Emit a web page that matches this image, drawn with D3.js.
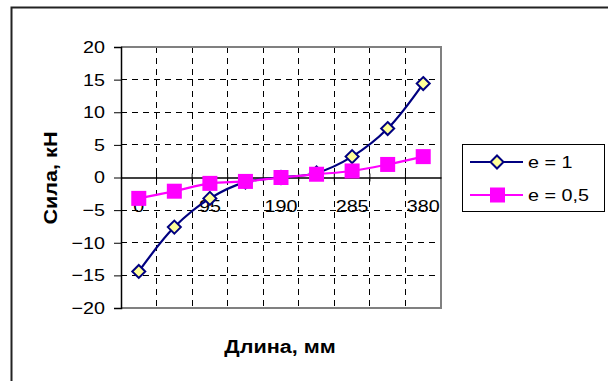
<!DOCTYPE html>
<html><head><meta charset="utf-8">
<script src="https://cdn.jsdelivr.net/npm/d3@7"></script>
<style>body{margin:0;background:#fff}svg{display:block}</style>
</head><body>
<svg id="c" width="609" height="381"></svg>
<script>
const categories = ["0","47,5","95","142,5","190","237,5","285","332,5","380"];
const shownLabels = ["0","95","190","285","380"];
const seriesE1 = [-14.4,-7.6,-3.2,-0.7,0,0.7,3.2,7.5,14.4];
const seriesE05 = [-3.2,-2.1,-0.9,-0.6,0,0.5,1.0,2.0,3.2];
const seriesNames = ["e = 1","e = 0,5"];
const yTicks = [-20,-15,-10,-5,0,5,10,15,20];

const FONT = "Arial, 'Liberation Sans', sans-serif";
const stretch = (sel, k) => sel.each(function(){
  const w = this.getComputedTextLength();
  if (w > 0) { this.setAttribute("textLength", w*k); this.setAttribute("lengthAdjust","spacingAndGlyphs"); }
});

const svg = d3.select("#c");
const L=121, R=441, T=47, B=308;
svg.append("path").attr("d","M11.5,381 V7.5 H608").attr("fill","none").attr("stroke","#222").attr("stroke-width",2);

const x = d3.scaleBand().domain(categories).range([L,R]).padding(0);
const y = d3.scaleLinear().domain([-20,20]).range([B,T]);

svg.append("g").selectAll("line").data(yTicks.filter(d=>d!==0&&d!==20&&d!==-20)).join("line")
  .attr("x1",L).attr("x2",R).attr("y1",d=>y(d)).attr("y2",d=>y(d))
  .attr("stroke","#000").attr("stroke-dasharray","6,5").attr("stroke-width",1).attr("shape-rendering","crispEdges");
svg.append("g").selectAll("line").data(categories.slice(1)).join("line")
  .attr("x1",d=>x(d)).attr("x2",d=>x(d)).attr("y1",T).attr("y2",B)
  .attr("stroke","#000").attr("stroke-dasharray","6,5").attr("stroke-width",1).attr("shape-rendering","crispEdges");

svg.append("path").attr("d",`M${L},${T} H${R} V${B} H${L}`).attr("fill","none").attr("stroke","#808080").attr("stroke-width",2);

const yAxis = d3.axisLeft(y).tickValues(yTicks).tickSize(7).tickPadding(9);
const gy = svg.append("g").attr("transform",`translate(${L},0)`).call(yAxis);
gy.select(".domain").attr("stroke","#000").attr("stroke-width",1.5);
gy.selectAll(".tick line").attr("stroke","#000");
gy.selectAll("text").attr("font-family",FONT).attr("font-size",17).attr("fill","#000");
stretch(gy.selectAll("text"), 1.16);

const xAxis = d3.axisBottom(x).tickValues(categories).tickSize(0).tickFormat(d=>shownLabels.includes(d)?d:"");
const gx = svg.append("g").attr("transform",`translate(0,${y(0)})`).call(xAxis);
gx.select(".domain").attr("stroke","#000").attr("stroke-width",1.5);
gx.selectAll("text").attr("font-family",FONT).attr("font-size",17).attr("fill","#000").attr("dy","1.85em");
stretch(gx.selectAll("text"), 1.16);
svg.append("g").selectAll("line").data(categories.slice(1)).join("line")
  .attr("x1",d=>x(d)).attr("x2",d=>x(d)).attr("y1",y(0)-4).attr("y2",y(0)+4).attr("stroke","#000");

const cx = d => x(d)+x.bandwidth()/2;
const line = d3.line().curve(d3.curveCatmullRom.alpha(0.5));

const p1 = categories.map((c,i)=>[cx(c),y(seriesE1[i])]);
const p2 = categories.map((c,i)=>[cx(c),y(seriesE05[i])]);
svg.append("path").attr("d",line(p1)).attr("fill","none").attr("stroke","#000080").attr("stroke-width",2.2);
const diamond = (s)=>`M0,${-s} L${s},0 L0,${s} L${-s},0 Z`;
svg.append("g").selectAll("path").data(p1).join("path")
  .attr("transform",d=>`translate(${d[0]},${d[1]})`).attr("d",diamond(6.5))
  .attr("fill","#FFFF99").attr("stroke","#000080").attr("stroke-width",2);
svg.append("path").attr("d",line(p2)).attr("fill","none").attr("stroke","#FF00FF").attr("stroke-width",2.2);
svg.append("g").selectAll("rect").data(p2).join("rect")
  .attr("x",d=>d[0]-7.5).attr("y",d=>d[1]-7.5).attr("width",15).attr("height",15).attr("fill","#FF00FF");

const xt = svg.append("text").attr("x",280).attr("y",353).attr("text-anchor","middle")
  .attr("font-family",FONT).attr("font-weight","bold").attr("font-size",18).text("Длина, мм");
stretch(xt, 1.2);
const yt = svg.append("text").attr("transform","translate(57,178) rotate(-90)").attr("text-anchor","middle")
  .attr("font-family",FONT).attr("font-weight","bold").attr("font-size",18).text("Сила, кН");
stretch(yt, 1.2);

const lg = svg.append("g");
lg.append("rect").attr("x",462.5).attr("y",144.5).attr("width",142).attr("height",67).attr("fill","#fff").attr("stroke","#000").attr("stroke-width",1);
const items = [{name:seriesNames[0],col:"#000080",m:"d",yy:162},{name:seriesNames[1],col:"#FF00FF",m:"s",yy:195}];
items.forEach(it=>{
  lg.append("line").attr("x1",470).attr("x2",523).attr("y1",it.yy).attr("y2",it.yy).attr("stroke",it.col).attr("stroke-width",2.2);
  if(it.m==="d") lg.append("path").attr("transform",`translate(497,${it.yy})`).attr("d",diamond(6.5)).attr("fill","#FFFF99").attr("stroke","#000080").attr("stroke-width",2);
  else lg.append("rect").attr("x",490).attr("y",it.yy-7.5).attr("width",15).attr("height",15).attr("fill","#FF00FF");
  const t = lg.append("text").attr("x",528).attr("y",it.yy).attr("dy","0.36em").attr("font-family",FONT).attr("font-size",17).text(it.name);
  stretch(t, 1.16);
});
</script>
</body></html>
